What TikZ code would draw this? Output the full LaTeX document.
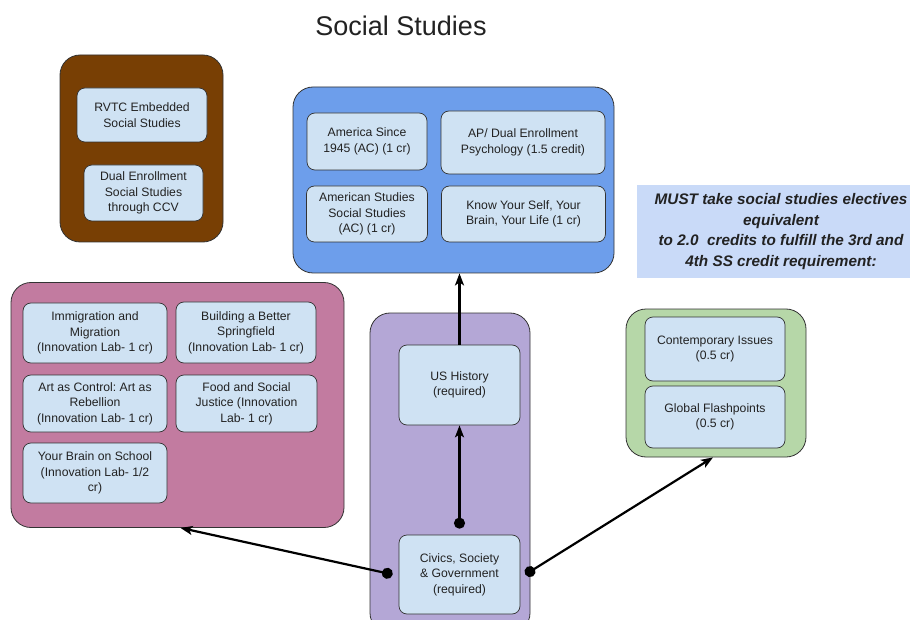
\documentclass[tikz,border=0pt]{standalone}
\usepackage{fontspec}
\setmainfont{Liberation Sans}
\usetikzlibrary{arrows.meta}
\frenchspacing

\definecolor{brownbox}{HTML}{783F04}
\definecolor{bluebox}{HTML}{6D9EEB}
\definecolor{pinkbox}{HTML}{C27BA0}
\definecolor{purplebox}{HTML}{B4A7D6}
\definecolor{greenbox}{HTML}{B6D7A8}
\definecolor{itemfill}{HTML}{CFE2F3}
\definecolor{notefill}{HTML}{C9DAF8}
\definecolor{edge}{HTML}{333333}
\definecolor{ink}{HTML}{222222}

\tikzset{
  group/.style={draw=edge, line width=0.8pt, rounded corners=20pt, inner sep=0pt},
  item/.style={draw=edge, line width=0.7pt, fill=itemfill, rounded corners=8pt,
    align=center, inner sep=0pt, text=ink,
    font=\fontsize{12.2}{15.6}\selectfont},
  link/.style={line width=2.2pt, black,
    {Circle[length=11pt]}-{Stealth[length=12pt,width=9pt,inset=3pt]}},
  uplink/.style={line width=2.2pt, black, -{Stealth[length=12pt,width=9pt,inset=3pt]}},
}

\begin{document}
\begin{tikzpicture}[x=1pt,y=-1pt]
\useasboundingbox (0,0) rectangle (910,620);
\fill[white] (0,0) rectangle (910,620);

% title
\node[font=\fontsize{27}{31}\selectfont, text=ink] (title) at (401,26) {Social Studies};

% group containers
\node[group, fill=brownbox, minimum width=163pt, minimum height=187pt] (brown) at (141.5,148.5) {};
\node[group, fill=bluebox, minimum width=321pt, minimum height=186pt] (blue) at (453.5,180) {};
\node[group, fill=pinkbox, minimum width=333pt, minimum height=245pt] (pink) at (177.5,405) {};
\node[group, fill=purplebox, minimum width=160pt, minimum height=320pt] (purple) at (450,473) {};
\node[group, fill=greenbox, minimum width=180pt, minimum height=148pt] (green) at (716,383) {};

% note
\node[fill=notefill, minimum width=280pt, minimum height=93pt, inner sep=0pt] (notebg) at (777,231.5) {};
\node[align=center, text=ink, font=\fontsize{15.3}{20.4}\selectfont\bfseries\itshape] (note) at (781,231.5)
  {MUST take social studies electives\\equivalent\\to 2.0~ credits to fulfill the 3rd and\\4th SS credit requirement:};

% brown group
\node[item, minimum width=130pt, minimum height=54pt] (rvtc) at (142,115) {RVTC Embedded\\Social Studies};
\node[item, minimum width=119pt, minimum height=56pt] (dual) at (143.5,193) {Dual Enrollment\\Social Studies\\through CCV};

% blue group
\node[item, minimum width=120pt, minimum height=57pt] (amer) at (367,141.5) {America Since\\1945 (AC) (1 cr)};
\node[item, minimum width=164pt, minimum height=63pt] (ap) at (523,142.5) {AP/ Dual Enrollment\\Psychology (1.5 credit)};
\node[item, minimum width=121pt, minimum height=56pt] (amstud) at (367,214) {American Studies\\Social Studies\\(AC) (1 cr)};
\node[item, minimum width=164pt, minimum height=56pt] (know) at (523.5,214) {Know Your Self, Your\\Brain, Your Life (1 cr)};

% pink group
\node[item, minimum width=144pt, minimum height=60pt] (immig) at (95,333) {Immigration and\\Migration\\(Innovation Lab- 1 cr)};
\node[item, minimum width=140pt, minimum height=61pt] (build) at (246,332.5) {Building a Better\\Springfield\\(Innovation Lab- 1 cr)};
\node[item, minimum width=144pt, minimum height=57pt] (art) at (95,403.5) {Art as Control: Art as\\Rebellion\\(Innovation Lab- 1 cr)};
\node[item, minimum width=141pt, minimum height=57pt] (food) at (246.5,403.5) {Food and Social\\Justice (Innovation\\Lab- 1 cr)};
\node[item, minimum width=144pt, minimum height=60pt] (brain) at (95,473) {Your Brain on School\\(Innovation Lab- 1/2\\cr)};

% purple group
\node[item, minimum width=121pt, minimum height=80pt] (ushist) at (459.5,385) {US History\\(required)};
\node[item, minimum width=121pt, minimum height=79pt] (civics) at (459.5,574.5) {Civics, Society\\\& Government\\(required)};

% green group
\node[item, minimum width=140pt, minimum height=64pt] (contemp) at (715,349) {Contemporary Issues\\(0.5 cr)};
\node[item, minimum width=140pt, minimum height=62pt] (global) at (715,417) {Global Flashpoints\\(0.5 cr)};

% connectors
\draw[uplink] (ushist.north) -- (ushist.north |- blue.south);
\draw[link] ([yshift=6pt]civics.north) -- (ushist.south);
\draw[link] ([xshift=-6pt]civics.west) -- ([xshift=3pt]pink.south);
\draw[link] ([xshift=5pt]civics.east) -- ([xshift=-3pt]green.south);
\end{tikzpicture}
\end{document}
